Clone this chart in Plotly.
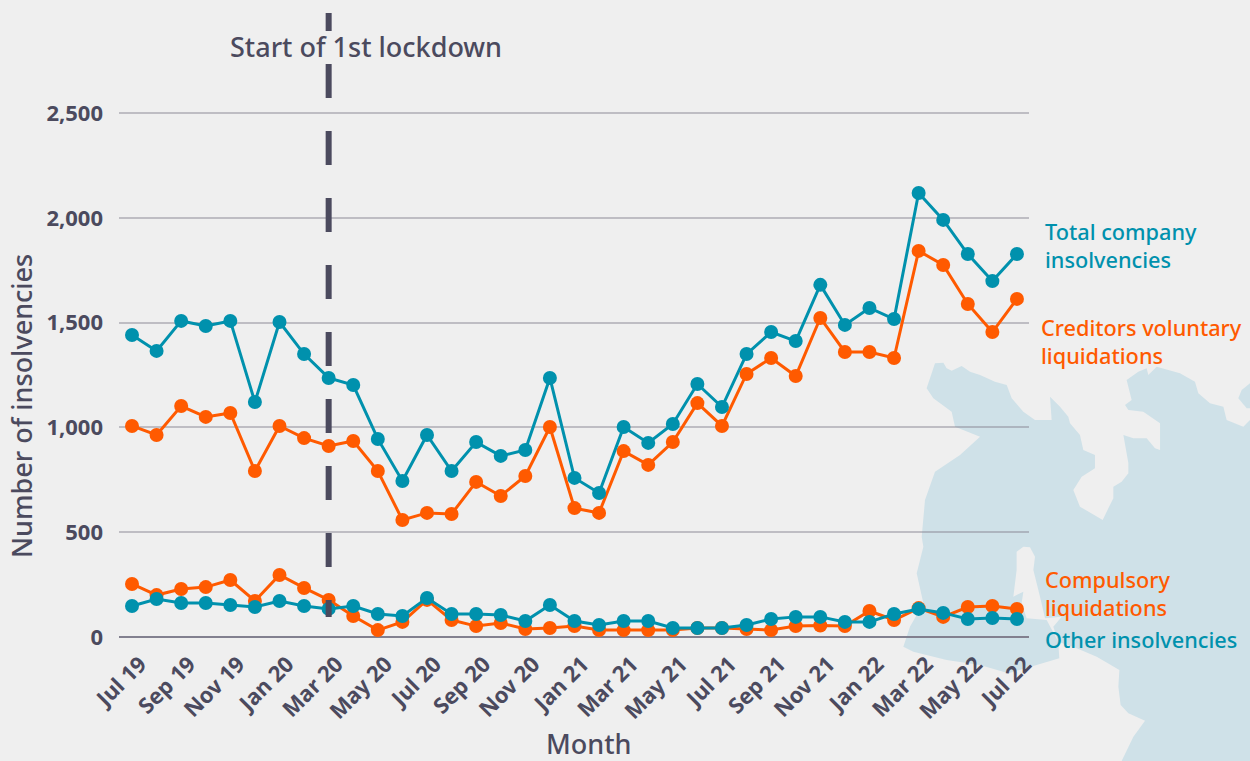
import plotly.graph_objects as go

months = ["Jul","Aug","Sep","Oct","Nov","Dec","Jan","Feb","Mar","Apr","May","Jun"]
categories = []
for i in range(37):
    m = months[i % 12]
    yr = 19 + (i + 6) // 12
    categories.append(f"{m} {yr}")

total_company = [1441,1365,1508,1484,1508,1121,1503,1350,1236,1202,945,744,964,792,930,864,892,1236,759,687,1002,926,1016,1207,1097,1350,1455,1412,1680,1489,1570,1517,2118,1990,1827,1698,1827]
creditors_voluntary = [1007,964,1102,1050,1069,792,1007,949,911,935,792,558,592,587,740,673,768,1002,615,592,887,821,930,1116,1007,1255,1331,1245,1522,1360,1360,1331,1842,1775,1589,1455,1613]
compulsory = [253,200,229,238,272,172,296,234,177,100,33,72,177,81,52,67,38,43,52,33,33,33,33,43,43,38,33,52,55,52,124,81,138,96,143,148,134]
other = [148,181,162,162,153,143,172,148,134,148,110,100,186,110,110,105,76,153,76,57,76,76,43,43,43,57,86,96,96,72,72,110,134,115,86,91,86]
y_ticks = [0,500,1000,1500,2000,2500]
y_ticklabels = ["0","500","1,000","1,500","2,000","2,500"]

W, H = 1250, 761
L, R, T, B = 119, 1029, 100, 637
TEAL = "#0091ad"
ORANGE = "#ff5a00"
INK = "#4b4a5e"
BG = "#efefef"
WATER = "#cfe1e8"
FONT = "Noto Sans"

def px(x): return (x - L) / (R - L)
def py(y): return (B - y) / (B - T)

def zoomed(points):
    # decorative backdrop outline, traced in crop units
    return [(880 + a / 3, 340 + b / 3) for a, b in points]

def path(points):
    return "M " + " L ".join(f"{px(x):.4f},{py(y):.4f}" for x, y in points) + " Z"

water = [(165,70),(190,68),(200,85),(215,92),(245,78),(270,95),(300,105),(345,125),(380,135),(395,175),(430,215),(465,240),(515,240),(510,170),(540,200),(565,230),(570,250),(600,285),(610,330),(645,345),(645,385),(605,410),(580,450),(600,500),(668,540),(685,505),(700,475),(700,440),(725,425),(745,400),(745,370),(730,285),(760,295),(800,295),(825,325),(840,330),(840,250),(790,215),(745,210),(735,195),(755,180),(740,120),(775,95),(800,85),(805,105),(830,80),(900,100),(945,125),(955,160),(990,190),(1030,200),(1040,240),(1090,260),(1110,240),(1110,1263),(725,1263),(760,1190),(795,1142),(745,1120),(722,1095),(715,1040),(718,990),(650,950),(590,925),(535,905),(538,955),(470,975),(385,1000),(300,975),(200,960),(100,935),(70,920),(90,860),(130,790),(110,700),(130,620),(125,590),(135,480),(165,395),(240,345),(300,290),(225,260),(215,215),(160,175),(140,145)]
water2 = [(1110,130),(1085,150),(1075,175),(1100,205),(1110,205)]
land = [(410,635),(430,620),(450,622),(465,650),(460,690),(480,770),(495,835),(545,830),(520,860),(535,905),(500,840),(440,835),(425,790),(430,755),(400,770),(410,690)]

shapes = []
for pts, col in ((water, WATER), (water2, WATER), (land, BG)):
    shapes.append(dict(type="path", xref="paper", yref="paper", path=path(zoomed(pts)),
                       fillcolor=col, line_width=0, layer="below"))
shapes.append(dict(type="line", xref="x", yref="paper", x0="Mar 20", x1="Mar 20",
                   y0=py(13), y1=py(618), layer="above",
                   line=dict(color=INK, width=6,
                             dash="18px,33px," + ",".join(["34px,33px"] * 8) + ",17px,100px")))

fig = go.Figure()
for vals, col, name in ((creditors_voluntary, ORANGE, "Creditors voluntary liquidations"),
                        (total_company, TEAL, "Total company insolvencies"),
                        (compulsory, ORANGE, "Compulsory liquidations"),
                        (other, TEAL, "Other insolvencies")):
    fig.add_trace(go.Scatter(x=categories, y=vals, name=name, mode="lines+markers",
                             line=dict(color=col, width=3), marker=dict(color=col, size=14),
                             cliponaxis=False, showlegend=False))

def note(text, x, y, size, color, weight=500, anchor="left", angle=0):
    return dict(text=text, xref="paper", yref="paper", x=px(x), y=py(y), showarrow=False,
                xanchor=anchor, yanchor="middle", align="left", textangle=angle,
                font=dict(family=FONT, size=size, color=color, weight=weight))

annotations = [
    note("Start of 1st lockdown", 227.5, 46, 27, INK),
    note("Month", 588.5, 743, 27, INK, anchor="center"),
    note("Number of insolvencies", 21, 406, 27, INK, anchor="center", angle=-90),
    note("Total company<br>insolvencies", 1043, 245, 21.7, TEAL),
    note("Creditors voluntary<br>liquidations", 1039, 341, 21.7, ORANGE),
    note("Compulsory<br>liquidations", 1043, 593, 21.7, ORANGE),
    note("Other insolvencies", 1043, 639, 21.7, TEAL),
]

fig.update_layout(
    width=W, height=H, autosize=False,
    margin=dict(l=L, r=W - R, t=T, b=H - B, pad=0),
    paper_bgcolor=BG, plot_bgcolor="rgba(0,0,0,0)",
    shapes=shapes, annotations=annotations, showlegend=False,
    xaxis=dict(type="category", categoryorder="array", categoryarray=categories,
               range=[-0.529, 36.49], tickmode="array", tickvals=categories[::2],
               ticktext=categories[::2], tickangle=-45, showgrid=False, zeroline=False,
               showline=False, ticks="", ticklabelshift=8, ticklabelstandoff=9,
               tickfont=dict(family=FONT, size=22, color=INK, weight=700)),
    yaxis=dict(range=[0, (B - T) / 0.2096], tickmode="array", tickvals=y_ticks, ticktext=y_ticklabels,
               gridcolor="rgba(130,128,143,0.45)", gridwidth=2, zeroline=True, zerolinecolor="#82808f",
               zerolinewidth=2, showline=False, ticks="", ticklabelstandoff=15,
               tickfont=dict(family=FONT, size=22, color=INK, weight=700)),
)

fig.write_html("out.html", config={"displayModeBar": False},
               post_script="document.body.style.margin='0';")
